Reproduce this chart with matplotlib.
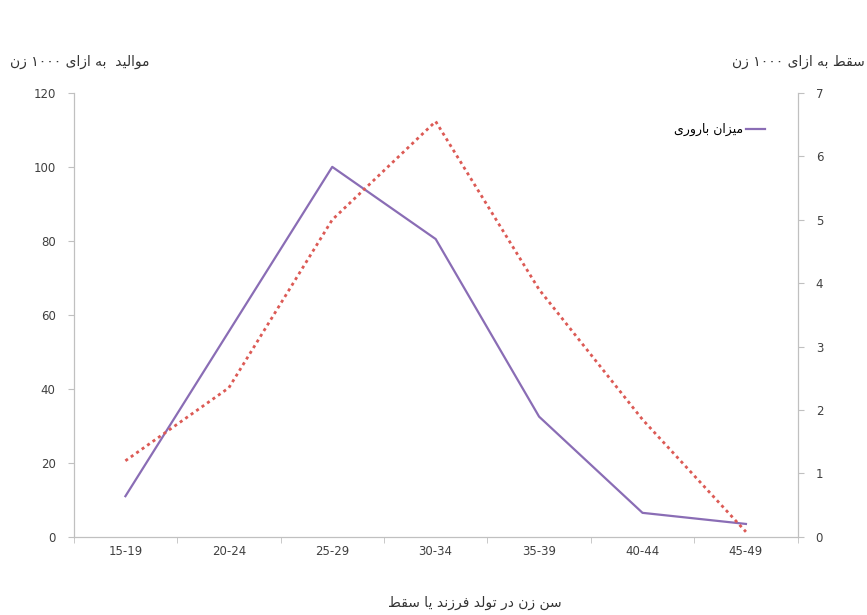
import numpy as np
import matplotlib.pyplot as plt
from matplotlib.ticker import FixedLocator

# age groups and rates
age_groups = ['15-19', '20-24', '25-29', '30-34', '35-39', '40-44', '45-49']
births = [11, 55.5, 100, 80.5, 32.5, 6.5, 3.5]          # per 1000 women (left axis)
abortions = [1.2, 2.35, 5.0, 6.55, 3.9, 1.85, 0.08]     # per 1000 women (right axis)

left_label = 'موالید  به ازای ۱۰۰۰ زن'
right_label = 'سقط به ازای ۱۰۰۰ زن'
legend_label = 'میزان باروری'
x_label = 'سن زن در تولد فرزند یا سقط'

# arabic presentation forms: isolated, final, initial, medial
FORMS = {
    'ا': ('\uFE8D', '\uFE8E'),
    'ب': ('\uFE8F', '\uFE90', '\uFE91', '\uFE92'),
    'ت': ('\uFE95', '\uFE96', '\uFE97', '\uFE98'),
    'د': ('\uFEA9', '\uFEAA'),
    'ر': ('\uFEAD', '\uFEAE'),
    'ز': ('\uFEAF', '\uFEB0'),
    'س': ('\uFEB1', '\uFEB2', '\uFEB3', '\uFEB4'),
    'ط': ('\uFEC1', '\uFEC2', '\uFEC3', '\uFEC4'),
    'ف': ('\uFED1', '\uFED2', '\uFED3', '\uFED4'),
    'ق': ('\uFED5', '\uFED6', '\uFED7', '\uFED8'),
    'ل': ('\uFEDD', '\uFEDE', '\uFEDF', '\uFEE0'),
    'م': ('\uFEE1', '\uFEE2', '\uFEE3', '\uFEE4'),
    'ن': ('\uFEE5', '\uFEE6', '\uFEE7', '\uFEE8'),
    'ه': ('\uFEE9', '\uFEEA', '\uFEEB', '\uFEEC'),
    'و': ('\uFEED', '\uFEEE'),
    'ی': ('\uFBFC', '\uFBFD', '\uFBFE', '\uFBFF'),
}


def shape(word):
    out = []
    for i, c in enumerate(word):
        if c not in FORMS:
            out.append(c)
            continue
        f = FORMS[c]
        prev = word[i - 1] if i > 0 else None
        nxt = word[i + 1] if i + 1 < len(word) else None
        join_prev = prev in FORMS and len(FORMS[prev]) == 4
        join_next = len(f) == 4 and nxt in FORMS
        if join_prev and join_next:
            out.append(f[3])
        elif join_prev:
            out.append(f[1])
        elif join_next:
            out.append(f[2])
        else:
            out.append(f[0])
    return ''.join(out)


def rtl(text):
    vis = []
    for w in reversed(text.split(' ')):
        s = shape(w)
        if any(ch in FORMS for ch in w):
            s = s[::-1]
        vis.append(s)
    return ' '.join(vis)


plt.rcParams['font.family'] = ['DejaVu Sans']

fig = plt.figure(figsize=(8.67, 6.15), dpi=100)
ax = fig.add_axes([0.085, 0.127, 0.835, 0.722])
ax2 = ax.twinx()

x = np.arange(len(age_groups))
line_b, = ax.plot(x, births, color='#8A6DB5', lw=1.6, label=rtl(legend_label))
ax2.plot(x, abortions, color='#DC5A55', lw=2.0, linestyle=(0, (1.1, 1.3)))

ax.set_xlim(-0.5, len(age_groups) - 0.5)
ax.set_ylim(0, 120)
ax.set_yticks(np.arange(0, 121, 20))
ax2.set_ylim(0, 7)
ax2.set_yticks(np.arange(0, 8, 1))

ax.set_xticks(x)
ax.set_xticklabels(age_groups)
ax.xaxis.set_minor_locator(FixedLocator(np.arange(-0.5, len(age_groups), 1)))

spine_col = '#C0C0C0'
for a in (ax, ax2):
    a.spines['top'].set_visible(False)
    for side in ('left', 'right', 'bottom'):
        a.spines[side].set_color(spine_col)
    a.tick_params(axis='y', colors=spine_col, labelcolor='#404040', labelsize=8.5, length=4, pad=9)
ax.tick_params(axis='x', which='major', length=0, labelsize=8.5, labelcolor='#404040', pad=6)
ax.tick_params(axis='x', which='minor', length=4, color=spine_col)

fig.text(0.012, 0.899, rtl(left_label), ha='left', va='center', fontsize=10, color='#333333')
fig.text(0.997, 0.899, rtl(right_label), ha='right', va='center', fontsize=10, color='#333333')
fig.text(0.548, 0.02, rtl(x_label), ha='center', va='center', fontsize=10, color='#333333')

ax2.legend(handles=[line_b], loc='upper right', bbox_to_anchor=(0.895, 0.818),
           bbox_transform=fig.transFigure, frameon=False, markerfirst=False,
           fontsize=9, handlelength=1.5, handletextpad=0.2)

fig.savefig('out.png', dpi=100)
